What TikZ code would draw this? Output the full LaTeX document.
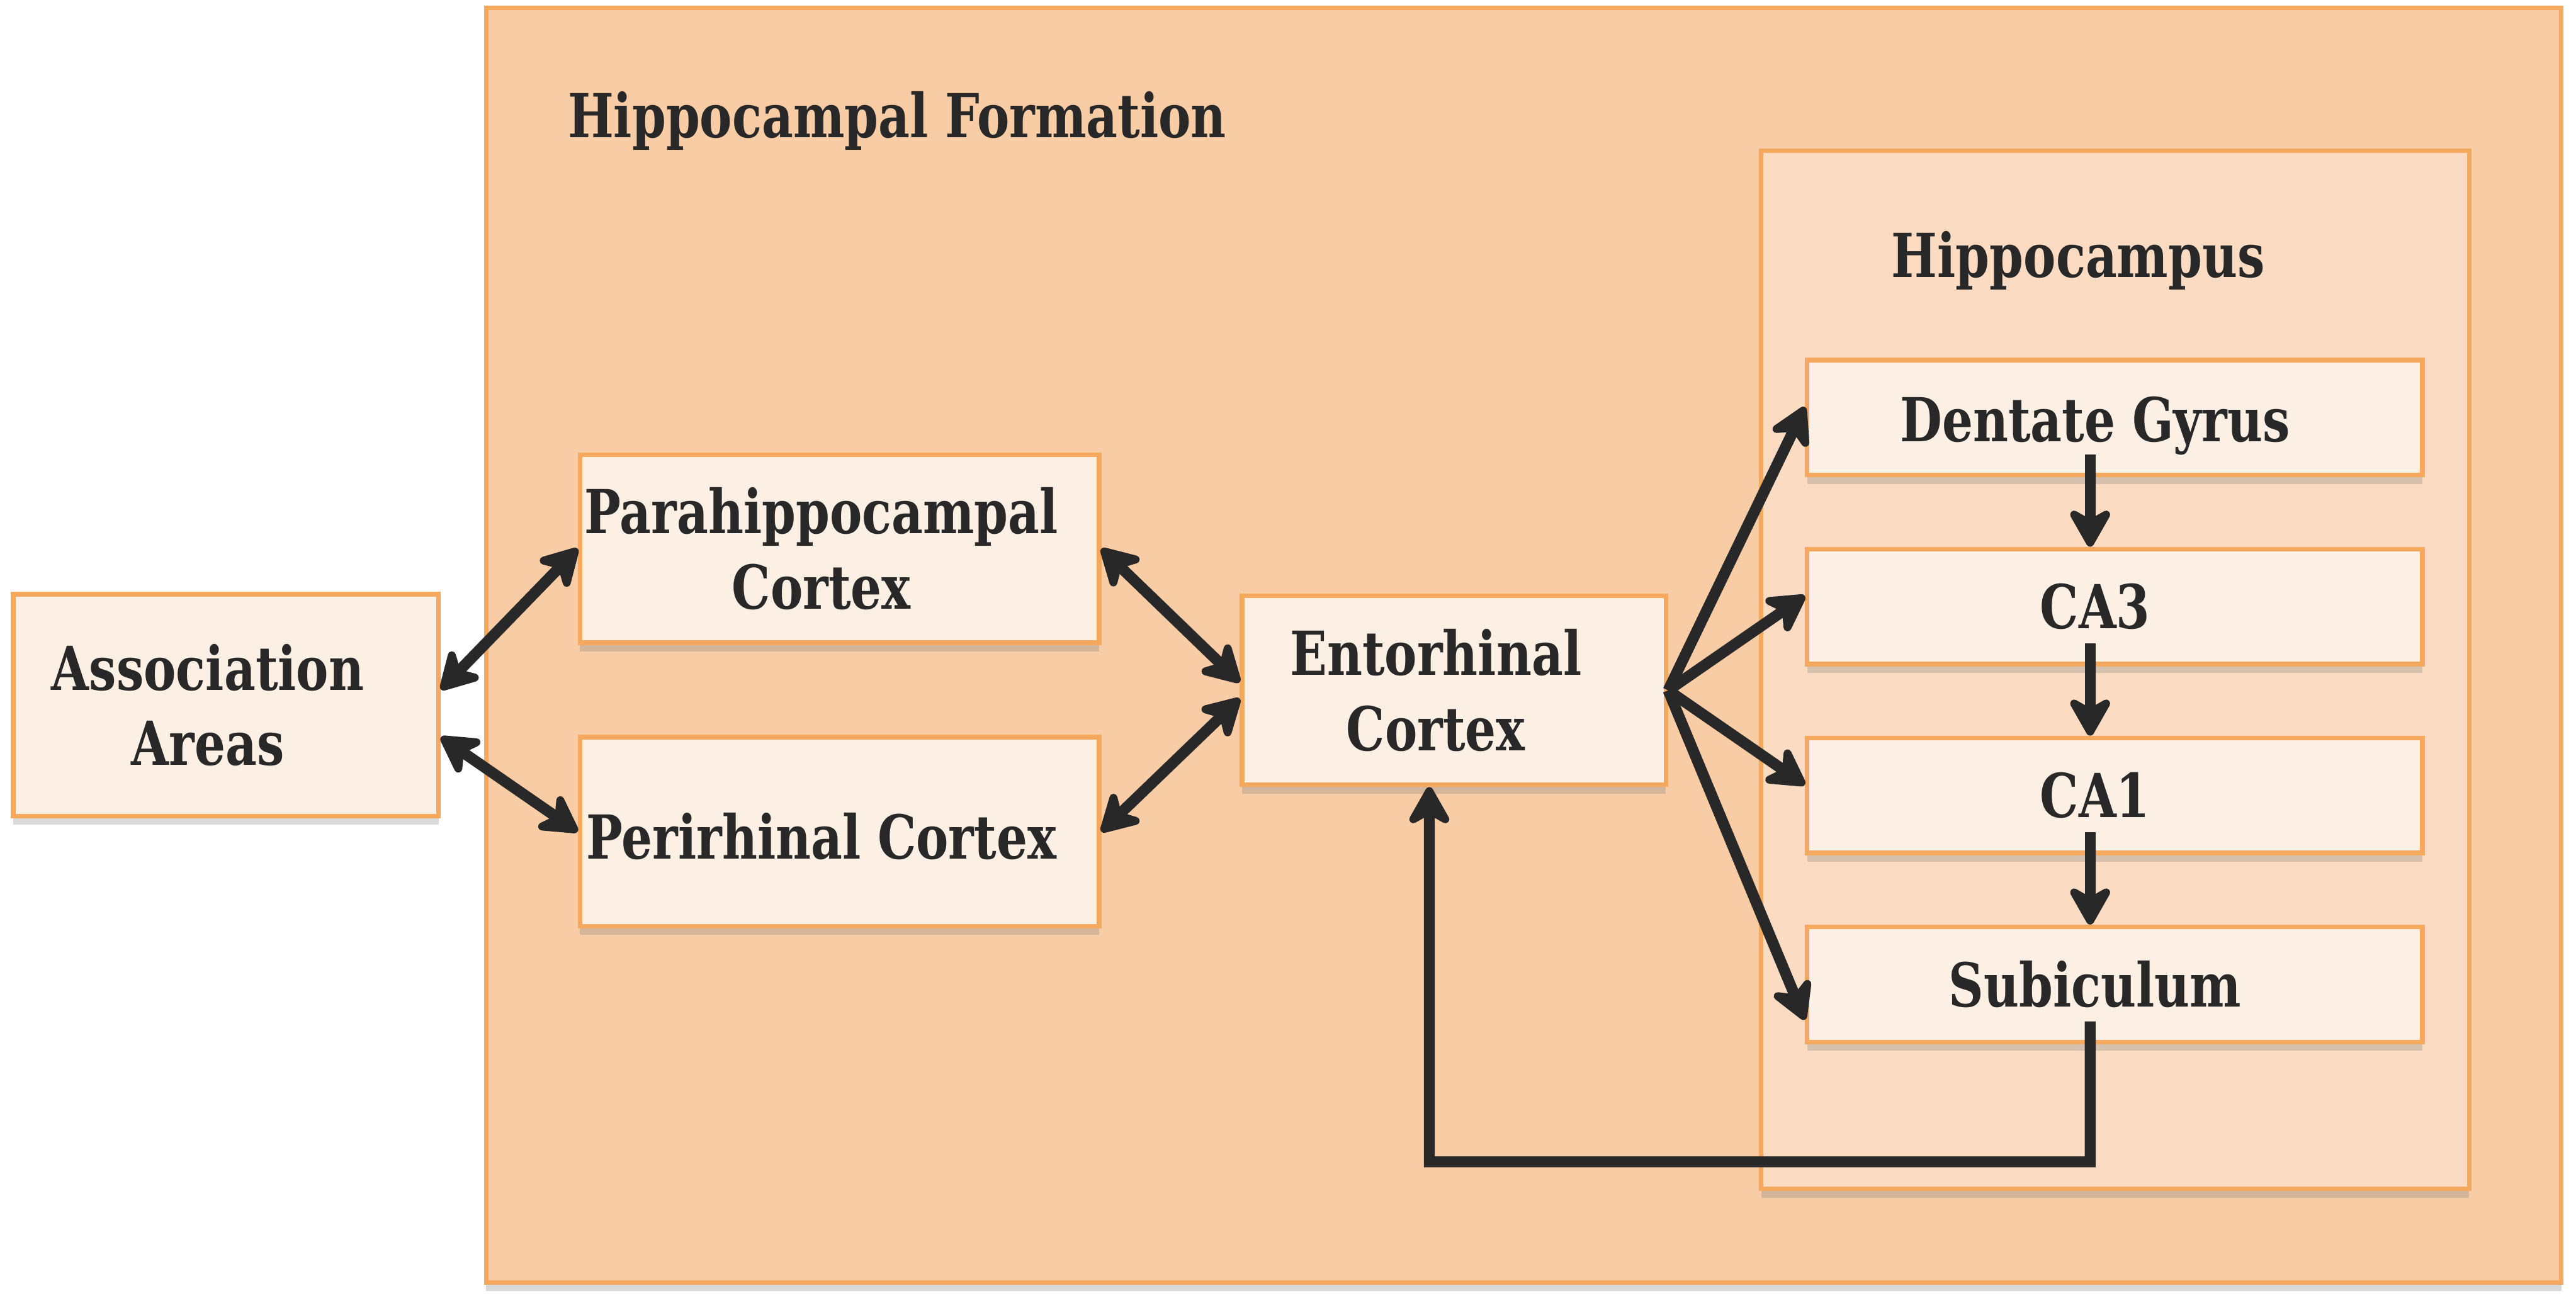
\documentclass[tikz,border=0pt]{standalone}
\usepackage{fontspec}
\newfontfamily\boxfont{DejaVu Serif}[FakeStretch=0.8]
\usepackage{tikz}
\usetikzlibrary{arrows.meta, positioning, shadows}

\definecolor{formfill}{HTML}{F8CCA4}
\definecolor{campfill}{HTML}{FBDCC2}
\definecolor{cellfill}{HTML}{FCEFE3}
\definecolor{edgeorange}{HTML}{F5A95F}
\definecolor{inkgray}{HTML}{282828}

\begin{document}
\begin{tikzpicture}[
  region/.style={draw=edgeorange, line width=1.6pt, drop shadow={shadow xshift=0pt, shadow yshift=-3pt, opacity=0.3}},
  cell/.style={region, fill=cellfill},
  celltext/.style={font=\boxfont\bfseries\fontsize{21}{26}\selectfont, text=inkgray, align=center, inner sep=0pt},
  flow/.style={inkgray, line width=3.8pt, -{Stealth[length=16pt, width=18pt, inset=5pt, round]}},
  twoway/.style={flow, {Stealth[length=16pt, width=18pt, inset=5pt, round]}-{Stealth[length=16pt, width=18pt, inset=5pt, round]}}
]
\useasboundingbox (0,0) rectangle (31.36,15.795);

% Hippocampal formation
\node[region, fill=formfill, minimum width=25.26cm, minimum height=15.52cm] (formation) at (18.55,7.94) {};
\node[celltext] (formtitle) at (10.92,14.32) {Hippocampal Formation};

% Hippocampus
\node[region, fill=campfill, minimum width=8.62cm, minimum height=12.64cm] (campus) at (25.75,7.64) {};
\node[celltext] (camptitle) at (25.30,12.62) {Hippocampus};

% Cortical boxes
\node[cell, minimum width=5.18cm, minimum height=2.70cm] (assoc) at (2.75,7.21) {};
\node[celltext] (assoctext) at ([xshift=-2.2mm]assoc.center) {Association\\Areas};
\node[cell, minimum width=6.32cm, minimum height=2.29cm] (para) at (10.22,9.115) {};
\node[celltext] (paratext) at ([xshift=-2.2mm]para.center) {Parahippocampal\\Cortex};
\node[cell, minimum width=6.32cm, minimum height=2.30cm] (peri) at (10.22,5.67) {};
\node[celltext] (peritext) at ([xshift=-2.2mm,yshift=-0.6mm]peri.center) {Perirhinal Cortex};
\node[cell, minimum width=5.16cm, minimum height=2.30cm] (ent) at (17.70,7.39) {};
\node[celltext] (enttext) at ([xshift=-2.2mm]ent.center) {Entorhinal\\Cortex};

% Hippocampal fields
\node[cell, minimum width=7.49cm, minimum height=1.40cm] (dg) at (25.745,10.71) {};
\node[celltext] (dgtext) at ([xshift=-2.4mm,yshift=-1mm]dg.center) {Dentate Gyrus};
\node[cell, minimum width=7.49cm, minimum height=1.40cm] (ca3) at (25.745,8.41) {};
\node[celltext] (ca3text) at ([xshift=-2.4mm]ca3.center) {CA3};
\node[cell, minimum width=7.49cm, minimum height=1.40cm] (ca1) at (25.745,6.11) {};
\node[celltext] (ca1text) at ([xshift=-2.4mm]ca1.center) {CA1};
\node[cell, minimum width=7.49cm, minimum height=1.40cm] (sub) at (25.745,3.81) {};
\node[celltext] (subtext) at ([xshift=-2.4mm]sub.center) {Subiculum};

% Cortical loops
\draw[twoway] ([yshift=1.9mm]assoc.east) -- (para.west);
\draw[twoway] ([yshift=-3.9mm]assoc.east) -- (peri.west);
\draw[twoway] (para.east) -- ([yshift=1mm]ent.west);
\draw[twoway] (peri.east) -- ([yshift=-1mm]ent.west);

% Entorhinal output
\draw[flow] (ent.east) -- ([yshift=1.3mm]dg.west);
\draw[flow] (ent.east) -- ([yshift=1.3mm]ca3.west);
\draw[flow] (ent.east) -- ([yshift=1.3mm]ca1.west);
\draw[flow] (ent.east) -- ([yshift=-4.3mm]sub.west);

% Trisynaptic path
\draw[flow] ([xshift=-3mm,yshift=-4.5mm]dg.center) -- ([xshift=-3mm]ca3.north);
\draw[flow] ([xshift=-3mm,yshift=-4.5mm]ca3.center) -- ([xshift=-3mm]ca1.north);
\draw[flow] ([xshift=-3mm,yshift=-4.5mm]ca1.center) -- ([xshift=-3mm]sub.north);

% Back to entorhinal cortex
\coordinate (turn) at (17.40,1.65);
\draw[flow] ([xshift=-3mm,yshift=-4.5mm]sub.center) |- (turn) -- ([xshift=-3mm]ent.south);
\end{tikzpicture}
\end{document}
